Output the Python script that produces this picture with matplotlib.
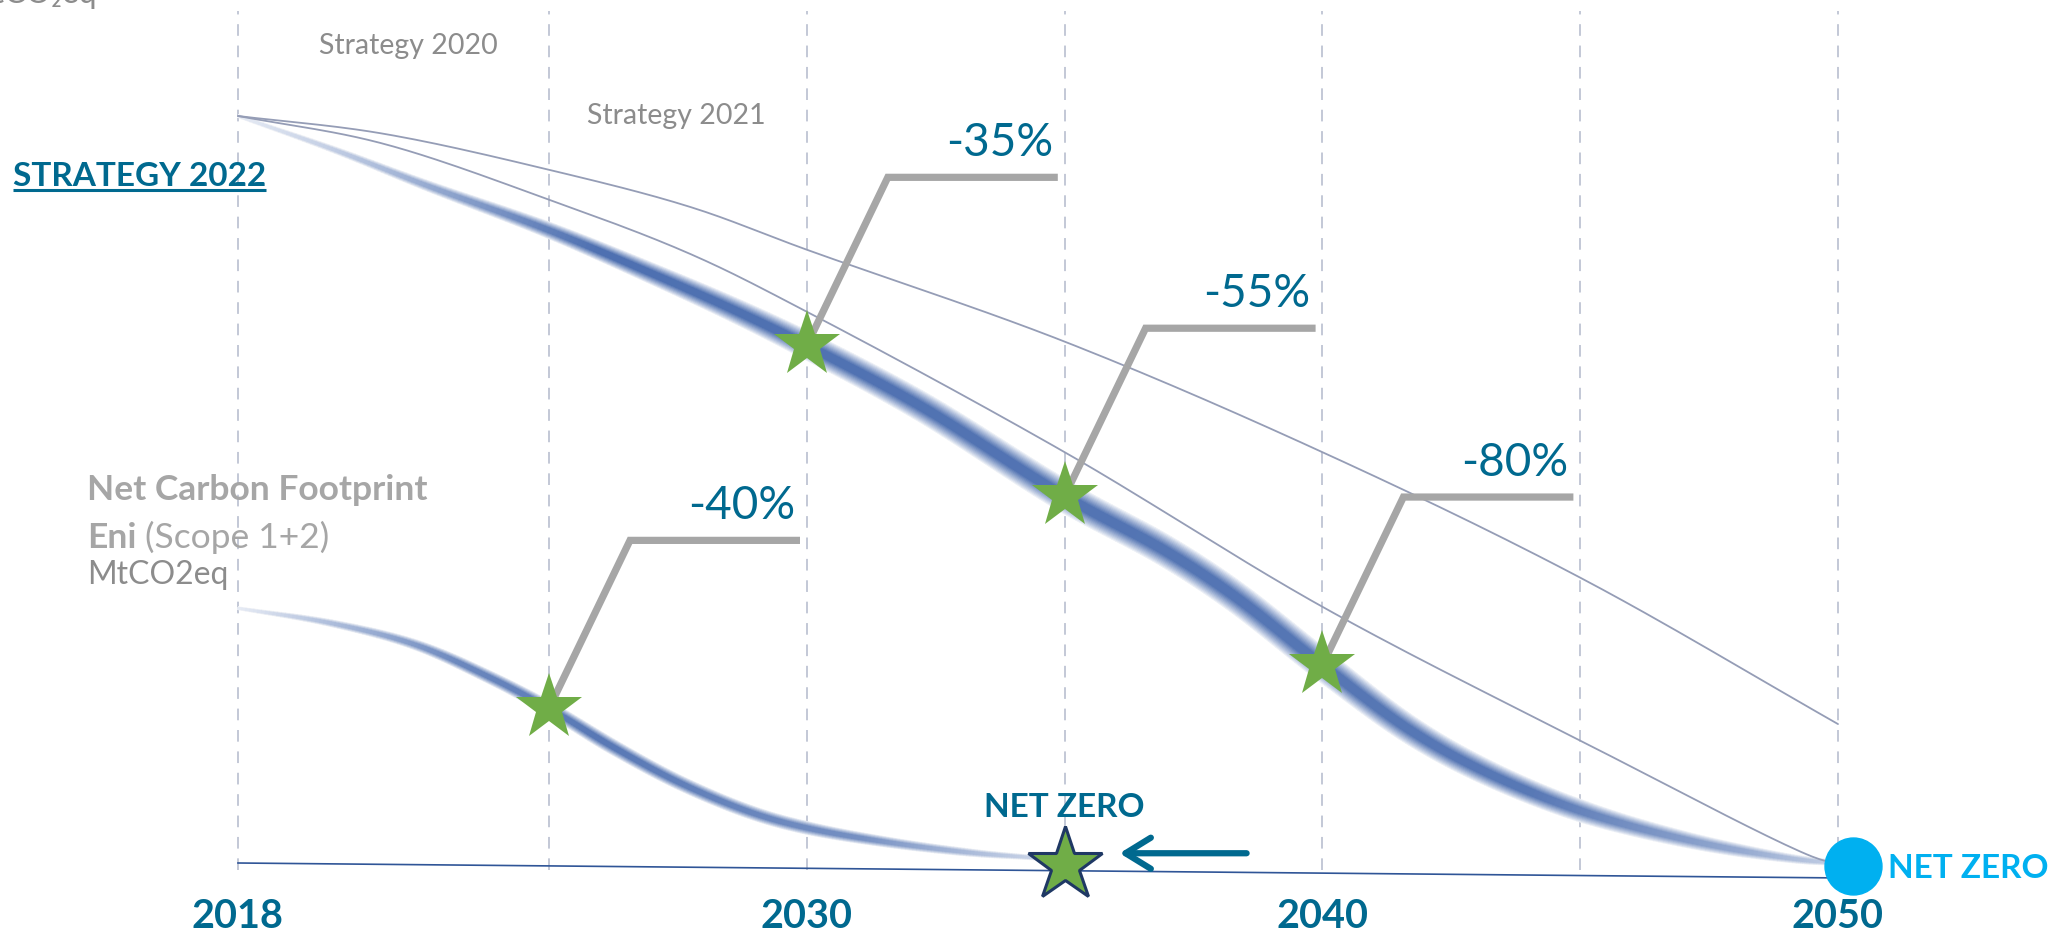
import numpy as np
import matplotlib
matplotlib.use("Agg")
import matplotlib.pyplot as plt
import matplotlib.colors as mcolors
from matplotlib.collections import PolyCollection
from matplotlib.transforms import offset_copy

plt.rcParams['font.family'] = ['Lato', 'DejaVu Sans']

# ---------------- data (index, 2018 = 100) ----------------
s2020_years = [2018, 2021.2, 2025, 2027.75, 2030, 2035, 2040, 2045, 2050]
s2020_vals = [100, 97.7, 92.8, 87.8, 82.1, 69.8, 55.0, 38.2, 18.6]

s2021_years = [2018, 2021.2, 2025, 2027.75, 2030, 2035, 2040, 2045, 2049.6, 2050]
s2021_vals = [100, 96.4, 88.8, 81.5, 73.8, 55.0, 34.3, 16.4, 0.6, 0]

s2022_years = [2018, 2020.2, 2022.2, 2025, 2026.9, 2028.6, 2030, 2032.2, 2035, 2037.0,
               2038.3, 2040, 2041.7, 2043.1, 2045, 2047.2, 2049.2, 2050]
s2022_vals = [100, 95.4, 90.8, 84.7, 79.2, 74.0, 69.3, 61.2, 49.1, 41.6,
              35.7, 26.5, 17.8, 12.4, 7.0, 2.9, 0.5, 0]

ncf_years = [2018, 2020.1, 2022.0, 2023.65, 2025, 2026.25, 2027.55, 2028.95, 2030,
             2031.65, 2033.3, 2034.4, 2035]
ncf_vals = [34.1, 32.1, 29.2, 24.9, 20.7, 15.5, 10.7, 6.7, 4.7, 2.7, 1.3, 0.7, 0.2]

baseline_years = [2018, 2050]
baseline_vals = [0.0, -2.0]

milestone_years = [2030, 2035, 2040]
milestone_vals = [69.3, 49.1, 26.5]
milestone_labels = ['-35%', '-55%', '-80%']

ncf_milestone_years = [2025]
ncf_milestone_vals = [20.7]
ncf_milestone_labels = ['-40%']

ncf_net_zero_year = [2035]
ncf_net_zero_val = [-0.3]
net_zero_year = [2050]
net_zero_val = [-0.4]

grid_years = [2018, 2025, 2030, 2035, 2040, 2045, 2050]
tick_years = [2018, 2030, 2040, 2050]

# ---------------- style ----------------
TEAL = '#00698F'
CYAN = '#00B0F0'
GREEN = '#70AD47'
NAVY = '#1F3864'
GRAY = '#A6A6A6'
DGRAY = '#8C8C8C'
THIN = '#959DB6'
GRID = '#C3C8D6'
CORE = '#3A60A8'

W, H = 2059, 936
fig = plt.figure(figsize=(W / 100, H / 100), dpi=100)
ax = fig.add_axes([0, 0, 1, 1])
ax.set_axis_off()

# piecewise-linear year scale (px per year differs before/after 2025)
K0, P0, A, B = 2025.0, 549.0, 44.43, 51.56


def fwd(x):
    x = np.asarray(x, dtype=float)
    return np.where(x < K0, P0 + (x - K0) * A, P0 + (x - K0) * B)


def inv(p):
    p = np.asarray(p, dtype=float)
    return np.where(p < P0, K0 + (p - P0) / A, K0 + (p - P0) / B)


ax.set_xscale('function', functions=(fwd, inv))
ax.set_xlim(float(inv(0.0)), float(inv(float(W))))
PXV = 7.47
ax.set_ylim(-(H - 863) / PXV, 863 / PXV)


def dots(dx, dy):
    return offset_copy(ax.transData, fig=fig, x=dx, y=dy, units='dots')


def smooth_display(xs, ys, n=24):
    """Centripetal Catmull-Rom rendering through the given points (display space)."""
    P = ax.transData.transform(np.column_stack([xs, ys]))
    P = np.vstack([2 * P[0] - P[1], P, 2 * P[-1] - P[-2]])
    out = []
    for i in range(1, len(P) - 2):
        p0, p1, p2, p3 = P[i - 1], P[i], P[i + 1], P[i + 2]
        t0 = 0.0
        t1 = t0 + max(np.linalg.norm(p1 - p0), 1e-6) ** 0.5
        t2 = t1 + max(np.linalg.norm(p2 - p1), 1e-6) ** 0.5
        t3 = t2 + max(np.linalg.norm(p3 - p2), 1e-6) ** 0.5
        t = np.linspace(t1, t2, n, endpoint=False)[:, None]
        A1 = (t1 - t) / (t1 - t0) * p0 + (t - t0) / (t1 - t0) * p1
        A2 = (t2 - t) / (t2 - t1) * p1 + (t - t1) / (t2 - t1) * p2
        A3 = (t3 - t) / (t3 - t2) * p2 + (t - t2) / (t3 - t2) * p3
        B1 = (t2 - t) / (t2 - t0) * A1 + (t - t0) / (t2 - t0) * A2
        B2 = (t3 - t) / (t3 - t1) * A2 + (t - t1) / (t3 - t1) * A3
        C = (t2 - t) / (t2 - t1) * B1 + (t - t1) / (t2 - t1) * B2
        out.append(C)
    out.append(P[-2][None, :])
    return np.vstack(out)


def smooth_plot(xs, ys, **kw):
    pts = ax.transData.inverted().transform(smooth_display(xs, ys))
    ax.plot(pts[:, 0], pts[:, 1], **kw)


# dashed vertical grid lines
ax.vlines(grid_years, -1.0, 114.0, colors=GRID, linewidth=1.4,
          linestyles=(0, (6, 5)), zorder=1)

# baseline
ax.plot(baseline_years, baseline_vals, color='#2F5597', lw=1.2, zorder=2)


def glow(xs, ys, w_years, w_px, f_years, f_vals, core, n_layers=14, z=3):
    pts = smooth_display(xs, ys)
    inv_t = ax.transData.inverted()
    yrs = inv_t.transform(pts)[:, 0]
    Wd = np.interp(yrs, w_years, w_px)
    F = np.interp(yrs, f_years, f_vals)
    d = np.gradient(pts, axis=0)
    d /= np.linalg.norm(d, axis=1)[:, None]
    nrm = np.column_stack([-d[:, 1], d[:, 0]])
    core_rgb = np.array(mcolors.to_rgb(core))
    for k in range(n_layers):
        frac = 1 - k / n_layers
        strength = min(1.0, ((k + 1) / n_layers) ** 0.9 * 1.25)
        half = Wd * frac / 2
        up = pts + nrm * half[:, None]
        lo = pts - nrm * half[:, None]
        quads, cols = [], []
        for i in range(len(pts) - 1):
            q = np.array([up[i], up[i + 1], lo[i + 1], lo[i]])
            quads.append(inv_t.transform(q))
            s = strength * (F[i] + F[i + 1]) / 2
            cols.append(tuple(1 - s * (1 - core_rgb)))
        ax.add_collection(PolyCollection(quads, facecolors=cols, edgecolors=cols,
                                         linewidths=0.4, zorder=z))


# Strategy 2022 thick glowing line
glow(s2022_years, s2022_vals,
     [2018, 2021, 2025, 2030, 2035, 2040, 2045, 2048, 2050],
     [3, 8, 16, 27, 31, 30, 22, 13, 5],
     [2018, 2020, 2023, 2026, 2044, 2048, 2050],
     [0.12, 0.3, 0.6, 0.9, 0.85, 0.55, 0.3], CORE)

# Net carbon footprint glowing line
glow(ncf_years, ncf_vals,
     [2018, 2020, 2023, 2026, 2030, 2033, 2035],
     [3, 7, 12, 15, 13, 8, 3],
     [2018, 2020, 2023, 2026, 2031, 2035],
     [0.12, 0.4, 0.75, 0.85, 0.7, 0.2], CORE)

# thin strategy lines
smooth_plot(s2020_years, s2020_vals, color=THIN, lw=1.3, zorder=4, solid_capstyle='round')
smooth_plot(s2021_years, s2021_vals, color=THIN, lw=1.3, zorder=4, solid_capstyle='round')


# milestones with leaders
def milestone(x, v, label):
    p = ax.transData.transform((x, v))
    inv_t = ax.transData.inverted()
    elbow = inv_t.transform(p + np.array([81, 168]))
    end = inv_t.transform(p + np.array([251, 168]))
    ax.plot([x, elbow[0], end[0]], [v, elbow[1], end[1]], color=GRAY, lw=5.2,
            solid_joinstyle='miter', solid_capstyle='butt', zorder=5)
    ax.plot([x], [v], marker='*', ms=50, color=GREEN, mec=GREEN, mew=0, zorder=6,
            linestyle='none')
    ax.text(end[0], end[1], label, transform=dots(-5, 34), ha='right', va='center',
            fontsize=33, color=TEAL, zorder=7)


for x, v, lab in zip(milestone_years, milestone_vals, milestone_labels):
    milestone(x, v, lab)
for x, v, lab in zip(ncf_milestone_years, ncf_milestone_vals, ncf_milestone_labels):
    milestone(x, v, lab)

# net zero star for NCF
ax.plot(ncf_net_zero_year, ncf_net_zero_val, marker='*', ms=56, color=GREEN, mec=NAVY,
        mew=2.2, linestyle='none', zorder=8)
ax.text(ncf_net_zero_year[0], ncf_net_zero_val[0], 'NET ZERO', transform=dots(0, 58),
        ha='center', va='center', fontsize=24, fontweight='bold', color=TEAL, zorder=8)
ax.annotate('', xy=(ncf_net_zero_year[0], ncf_net_zero_val[0]),
            xycoords=dots(55, 12),
            xytext=(ncf_net_zero_year[0], ncf_net_zero_val[0]),
            textcoords=dots(182, 12),
            arrowprops=dict(arrowstyle='->,head_length=0.65,head_width=0.4',
                            color=TEAL, lw=4.5, mutation_scale=28,
                            shrinkA=0, shrinkB=0),
            zorder=8)

# 2050 net zero dot
ax.plot(net_zero_year, net_zero_val, marker='o', ms=41, color=CYAN, mec=CYAN,
        linestyle='none', zorder=8, transform=dots(15, 0))
ax.text(net_zero_year[0], net_zero_val[0], 'NET ZERO', transform=dots(50, -3),
        ha='left', va='center', fontsize=24, fontweight='bold', color=CYAN, zorder=8)

# year labels
for yr in tick_years:
    ax.text(yr, 0, str(yr), transform=dots(0, -54), ha='center', va='center',
            fontsize=28.5, fontweight='bold', color=TEAL)


# annotations text (figure-fraction positions)
def fx(px):
    return px / W


def fy(py):
    return 1 - py / H


ax.text(fx(408), fy(46), 'Strategy 2020', transform=ax.transAxes, ha='center',
        va='center', fontsize=20.5, color=DGRAY)
ax.text(fx(676), fy(116), 'Strategy 2021', transform=ax.transAxes, ha='center',
        va='center', fontsize=20.5, color=DGRAY)
t22 = ax.text(fx(13), fy(177), 'STRATEGY 2022', transform=ax.transAxes, ha='left',
              va='center', fontsize=24, fontweight='bold', color=TEAL)
ax.text(fx(97), fy(3), 'MtCO₂eq', transform=ax.transAxes, ha='right',
        va='baseline', fontsize=23, color=DGRAY)

ax.text(fx(87), fy(490), 'Net Carbon Footprint', transform=ax.transAxes, ha='left',
        va='center', fontsize=25.5, fontweight='bold', color=GRAY)
t_eni = ax.text(fx(87), fy(538), 'Eni', transform=ax.transAxes, ha='left',
                va='center', fontsize=25.5, fontweight='bold', color=GRAY)
ax.annotate(' (Scope 1+2)', xy=(1, 0), xycoords=t_eni, ha='left', va='bottom',
            fontsize=25.5, color=GRAY)
ax.text(fx(87), fy(575), 'MtCO2eq', transform=ax.transAxes, ha='left',
        va='center', fontsize=23, color=DGRAY)

# underline STRATEGY 2022
fig.canvas.draw()
bb = t22.get_window_extent(fig.canvas.get_renderer())
uy = bb.y0 + 2
pts = ax.transAxes.inverted().transform([[bb.x0, uy], [bb.x1, uy]])
ax.plot(pts[:, 0], pts[:, 1], transform=ax.transAxes, color=TEAL, lw=2.2,
        solid_capstyle='butt')

fig.savefig('out.png', dpi=100, facecolor='white')
